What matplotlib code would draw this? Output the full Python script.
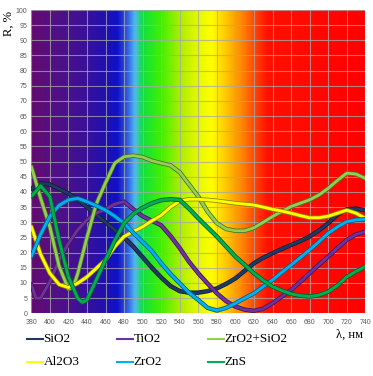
import numpy as np
import matplotlib
matplotlib.use("Agg")
import matplotlib.pyplot as plt
import matplotlib.patheffects as pe
from matplotlib.colors import to_rgb
from matplotlib.lines import Line2D

# reflectance spectra, R %
wl_sio2 = [380, 390, 400, 410, 420, 430, 440, 450, 460, 470, 480, 490, 500, 510, 520, 530, 540, 550, 560,
           570, 580, 590, 600, 610, 620, 630, 640, 650, 660, 670, 680, 690, 700, 710, 720, 730, 740]
r_sio2 = [41, 42.8, 42.5, 41, 39.5, 37.5, 35, 32.5, 30, 27.5, 25, 22, 18.5, 15, 11.8, 9, 7.3, 6.8, 6.8,
          7.3, 8.2, 9.7, 11.5, 14, 16.5, 18.3, 19.8, 21.2, 22.5, 23.8, 25.3, 27.3, 29.7, 32.5, 34.3, 34.5, 34]

wl_tio2 = [380, 385, 390, 400, 410, 420, 430, 440, 450, 460, 470, 480, 490, 500, 510, 520, 530, 540, 550,
           560, 570, 580, 590, 600, 610, 620, 630, 640, 650, 660, 670, 680, 690, 700, 710, 720, 730, 740]
r_tio2 = [9.5, 5, 5, 10.4, 17.5, 23, 27.5, 30.8, 33, 34.3, 36, 36.8, 34.3, 32, 30.5, 29, 25.5, 21.5, 17,
          13.2, 9.8, 6.6, 4, 2.2, 1.2, 0.8, 1.5, 3.3, 5.5, 7.7, 10.4, 13.2, 16, 18.7, 21.5, 24.2, 26, 26.9]

wl_zrsi = [380, 390, 400, 410, 420, 425, 430, 440, 450, 460, 470, 480, 490, 500, 510, 520, 530, 540, 550,
           560, 570, 580, 590, 600, 610, 620, 630, 640, 650, 660, 670, 680, 690, 700, 710, 720, 730, 740]
r_zrsi = [48.4, 38, 28.5, 15.5, 8, 8.5, 13, 25, 36, 43, 49.5, 51.6, 52, 51.5, 50.3, 49.5, 48.8, 46.5, 42.5,
          38.5, 33.5, 29.7, 27.8, 27.2, 27.2, 28.2, 30, 31.9, 33.6, 35.2, 36.3, 37.4, 39, 41.2, 43.8, 46.2, 45.9, 44.5]

wl_al2o3 = [380, 390, 400, 410, 420, 430, 440, 450, 460, 470, 480, 490, 500, 510, 520, 530, 540, 550, 560,
            570, 580, 590, 600, 610, 620, 630, 640, 650, 660, 670, 680, 690, 700, 710, 720, 730, 740]
r_al2o3 = [28.6, 19.5, 13.2, 9.5, 8.5, 9.9, 12, 14.8, 17.6, 22, 25.3, 27, 28.5, 30.5, 32.3, 35, 37, 37.6, 37.6,
           37.4, 37.1, 36.7, 36.3, 36, 35.7, 35, 34.3, 33.7, 33, 32.2, 31.5, 31.5, 32, 33, 34, 33, 31.3]

wl_zro2 = [380, 390, 400, 410, 420, 430, 440, 450, 460, 470, 480, 490, 500, 510, 520, 530, 540, 550, 560,
           570, 580, 590, 600, 610, 620, 630, 640, 650, 660, 670, 680, 690, 700, 710, 720, 730, 740]
r_zro2 = [18.7, 26, 31.9, 35.6, 37.4, 37.9, 36.8, 35.5, 34, 32, 29.7, 26.5, 23.5, 20.5, 16.5, 13, 9.9, 6.8, 4.4,
          1.8, 0.9, 1.8, 3.3, 5, 6.6, 8.8, 11, 13.5, 15.9, 18.4, 20.9, 23.6, 26.4, 28.5, 30.2, 30.8, 31]

wl_zns = [380, 390, 400, 410, 420, 430, 435, 440, 450, 460, 470, 480, 490, 500, 510, 520, 530, 540, 550,
          560, 570, 580, 590, 600, 610, 620, 630, 640, 650, 660, 670, 680, 690, 700, 710, 720, 730, 740]
r_zns = [38.5, 42, 38.5, 24, 12, 5, 3.6, 4.4, 11, 17.6, 24, 29.7, 32.8, 34.8, 36.3, 37.3, 37.6, 37.4, 34.5,
         31.3, 28.3, 25.3, 22, 18.7, 16, 13.2, 10.8, 8.8, 7.5, 6.4, 5.8, 5.5, 6, 7.1, 9.2, 12, 13.8, 15.4]

names = ['SiO2', 'TiO2', 'ZrO2+SiO2', 'Al2O3', 'ZrO2', 'ZnS']
colors = ['#1f3864', '#7030a0', '#92d050', '#ffff00', '#00b0f0', '#00b050']
series = [(wl_sio2, r_sio2), (wl_tio2, r_tio2), (wl_zrsi, r_zrsi),
          (wl_al2o3, r_al2o3), (wl_zro2, r_zro2), (wl_zns, r_zns)]

xticks = list(range(380, 741, 20))
yticks = list(range(0, 101, 5))

# spectrum background colour stops
stop_wl = [380, 400, 420, 440, 460, 473, 484, 492, 500, 520, 540, 560, 575, 590, 605, 620, 635, 740]
stop_col = ['#650a6e', '#560f80', '#48108e', '#38109a', '#2010b0', '#1010c8', '#3060e0', '#50b8f0',
            '#10e040', '#40f000', '#a8ee00', '#e6f800', '#ffff00', '#ffc800', '#ff9000', '#ff4c00',
            '#ff1000', '#ff0000']

fig = plt.figure(figsize=(3.73, 3.76), dpi=100)
ax = fig.add_axes([0.0839, 0.1668, 0.8954, 0.8066])

grid_x = np.linspace(380, 740, 720)
rgb = np.array([to_rgb(c) for c in stop_col])
img = np.stack([np.interp(grid_x, stop_wl, rgb[:, k]) for k in range(3)], axis=-1)
img = np.repeat(img[np.newaxis, :, :], 4, axis=0)
ax.imshow(img, extent=[380, 740, 0, 100], aspect='auto', interpolation='bilinear', zorder=0)

for (wl, r), c in zip(series, colors):
    dark = tuple(v * 0.55 for v in to_rgb(c))
    ax.plot(wl, r, color=c, lw=2.0, zorder=3, solid_capstyle='round',
            path_effects=[pe.Stroke(linewidth=3.2, foreground=dark), pe.Normal()])

ax.set_xlim(380, 740)
ax.set_ylim(0, 100)
ax.set_xticks(xticks)
ax.set_yticks(yticks)
ax.grid(True, color='#a8a8a8', lw=0.8, alpha=0.75, zorder=1)
ax.set_axisbelow(False)
for s in ax.spines.values():
    s.set_visible(False)
ax.tick_params(length=0, labelsize=5, colors='#595959', pad=4)
ax.tick_params(axis='y', pad=3)
for lab in ax.get_xticklabels() + ax.get_yticklabels():
    lab.set_family('Liberation Sans')

fig.text(8.5 / 373, 1 - 24 / 376, 'R, %', rotation=90, ha='center', va='center',
         family='Liberation Serif', fontsize=9)
fig.text(350 / 373, 1 - 334.5 / 376, 'λ, нм', ha='center', va='center',
         family='Liberation Serif', fontsize=9)

# legend, 3 columns x 2 rows
col_x = [27, 117, 208]
row_y = [339, 362]
for i, (name, c) in enumerate(zip(names, colors)):
    x0 = col_x[i % 3]
    y0 = 1 - row_y[i // 3] / 376
    fig.add_artist(Line2D([x0 / 373, (x0 + 16) / 373], [y0, y0], color=c, lw=1.5))
    fig.text((x0 + 16.5) / 373, y0, name, ha='left', va='center',
             family='Liberation Serif', fontsize=9.5)

fig.savefig('out.png', dpi=100)
